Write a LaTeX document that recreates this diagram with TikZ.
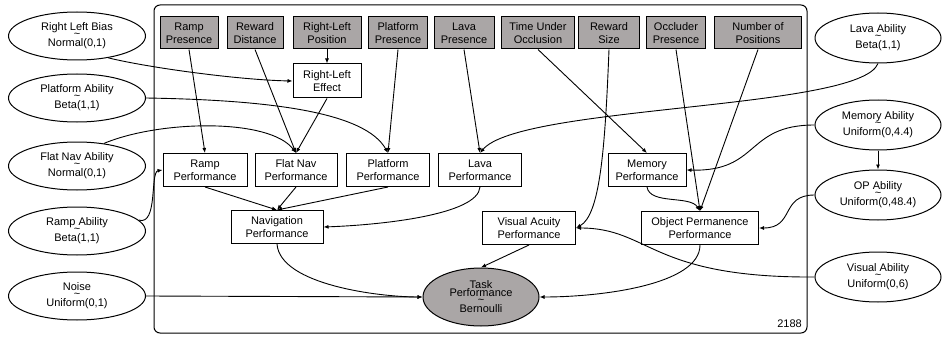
\documentclass[tikz,border=0pt]{standalone}
\usepackage{fontspec}
\setmainfont{Liberation Sans}
\usepackage{xcolor}
\usetikzlibrary{shapes.geometric, arrows.meta}
\definecolor{obsgray}{RGB}{170,166,166}

\begin{document}
\begin{tikzpicture}[
    x=1pt, y=-1pt,
    obs/.style={rectangle, draw, fill=obsgray, line width=1pt, align=center,
                minimum height=32pt, inner sep=2pt, font=\fontsize{11}{13}\selectfont},
    var/.style={rectangle, draw, fill=white, line width=1pt, align=center,
                minimum height=33pt, inner sep=2pt, font=\fontsize{11}{13}\selectfont},
    prior/.style={ellipse, draw, fill=white, line width=1pt, align=center,
                minimum width=137pt, minimum height=48pt, inner sep=0pt, font=\fontsize{11}{13}\selectfont},
    rel/.style={-{Latex[length=5pt,width=4pt]}, line width=0.9pt}
  ]
    \useasboundingbox (0,0) rectangle (943,337);
    \draw[line width=1pt, rounded corners=6pt] (154,5) rectangle (807,333);
    \node[anchor=base east, inner sep=0pt, font=\fontsize{11}{13}\selectfont] (cnt) at (802,327) {2188};

    \node[obs, minimum width=58pt] (rpres) at (189,33) {Ramp\\Presence};
    \node[obs, minimum width=56pt] (rdist) at (255,33) {Reward\\Distance};
    \node[obs, minimum width=68pt] (rlpos) at (327,33) {Right-Left\\Position};
    \node[obs, minimum width=59pt] (ppres) at (398,33) {Platform\\Presence};
    \node[obs, minimum width=60pt] (lpres) at (464,33) {Lava\\Presence};
    \node[obs, minimum width=73pt] (tuo)   at (538,33) {Time Under\\Occlusion};
    \node[obs, minimum width=61pt] (rsize) at (609,33) {Reward\\Size};
    \node[obs, minimum width=59pt] (occ)   at (676,33) {Occluder\\Presence};
    \node[obs, minimum width=87pt] (npos)  at (758,33) {Number of\\Positions};

    \node[var, minimum width=68pt, minimum height=34pt] (rle) at (327,81) {Right-Left\\Effect};
    \node[var, minimum width=84pt] (rp)  at (205,170) {Ramp\\Performance};
    \node[var, minimum width=82pt] (fnp) at (296,170) {Flat Nav\\Performance};
    \node[var, minimum width=83pt] (plp) at (388,170) {Platform\\Performance};
    \node[var, minimum width=83pt] (lvp) at (480,170) {Lava\\Performance};
    \node[var, minimum width=78pt] (mp)  at (647,170) {Memory\\Performance};
    \node[var, minimum width=92pt] (nav) at (277,227) {Navigation\\Performance};
    \node[var, minimum width=93pt] (vap) at (529,228) {Visual Acuity\\Performance};
    \node[var, minimum width=117pt] (opp) at (700,228) {Object Permanence\\Performance};
    \node[prior, fill=obsgray, minimum width=116pt, minimum height=58pt] (tp) at (481,297)
      {Task\\[-5pt]Performance\\[-6pt]\textasciitilde\\[-4pt]Bernoulli};

    \node[prior] (rlb)   at (77,36)  {Right Left Bias\\[-6pt]\textasciitilde\\[-4pt]Normal(0,1)};
    \node[prior] (pa)    at (77,98)  {Platform Ability\\[-6pt]\textasciitilde\\[-4pt]Beta(1,1)};
    \node[prior] (fna)   at (77,166) {Flat Nav Ability\\[-6pt]\textasciitilde\\[-4pt]Normal(0,1)};
    \node[prior] (ra)    at (77,231) {Ramp Ability\\[-6pt]\textasciitilde\\[-4pt]Beta(1,1)};
    \node[prior] (noise) at (77,296) {Noise\\[-6pt]\textasciitilde\\[-4pt]Uniform(0,1)};

    \node[prior, minimum width=126pt, minimum height=50pt] (la)  at (878,38)  {Lava Ability\\[-6pt]\textasciitilde\\[-4pt]Beta(1,1)};
    \node[prior, minimum width=126pt, minimum height=50pt] (ma)  at (878,125) {Memory Ability\\[-6pt]\textasciitilde\\[-4pt]Uniform(0,4.4)};
    \node[prior, minimum width=126pt, minimum height=50pt] (opa) at (878,195) {OP Ability\\[-6pt]\textasciitilde\\[-4pt]Uniform(0,48.4)};
    \node[prior, minimum width=126pt, minimum height=50pt] (va)  at (878,277) {Visual Ability\\[-6pt]\textasciitilde\\[-4pt]Uniform(0,6)};

    \draw[rel] (rlb.-35) .. controls (150,68) and (240,80) .. (rle.west);
    \draw[rel] (rlpos.south) -- (rle.north);
    \draw[rel] (rle.south) -- (fnp.north);
    \draw[rel] (rdist.south) -- (fnp.north);
    \draw[rel] (rpres.south) -- (rp.north);
    \draw[rel] (pa.east) .. controls (270,100) and (365,112) .. (plp.north);
    \draw[rel] (ppres.south) -- (plp.north);
    \draw[rel] (fna.40) .. controls (160,120) and (270,118) .. (fnp.north);
    \draw[rel] (ra.10) .. controls (158,226) and (150,172) .. (rp.west);
    \draw[rel] (lpres.south) -- (lvp.north);
    \draw[rel] (la.south) .. controls (860,110) and (520,105) .. (lvp.north);
    \draw[rel] (tuo.south) -- (mp.north);
    \draw[rel] (rsize.south) .. controls (605,150) and (600,215) .. (vap.east);
    \draw[rel] (occ.south) -- (opp.north);
    \draw[rel] (npos.south) -- (opp.north);
    \draw[rel] (mp.south) .. controls (650,205) and (690,195) .. (opp.north);
    \draw[rel] (ma.west) .. controls (745,125) and (760,172) .. (mp.east);
    \draw[rel] (ma.south) -- (opa.north);
    \draw[rel] (opa.west) .. controls (780,195) and (795,228) .. (opp.east);
    \draw[rel] (va.west) .. controls (650,278) and (650,228) .. (vap.east);
    \draw[rel] (opp.south) .. controls (700,285) and (600,297) .. (tp.east);
    \draw[rel] (vap.south) -- (tp.north);
    \draw[rel] (nav.south) .. controls (280,285) and (380,297) .. (tp.west);
    \draw[rel] (noise.east) -- (tp.west);
    \draw[rel] (rp.south) -- (nav.north);
    \draw[rel] (fnp.south) -- (nav.north);
    \draw[rel] (plp.south) -- (nav.north);
    \draw[rel] (lvp.south) .. controls (478,215) and (380,225) .. (nav.east);
  \end{tikzpicture}
\end{document}
